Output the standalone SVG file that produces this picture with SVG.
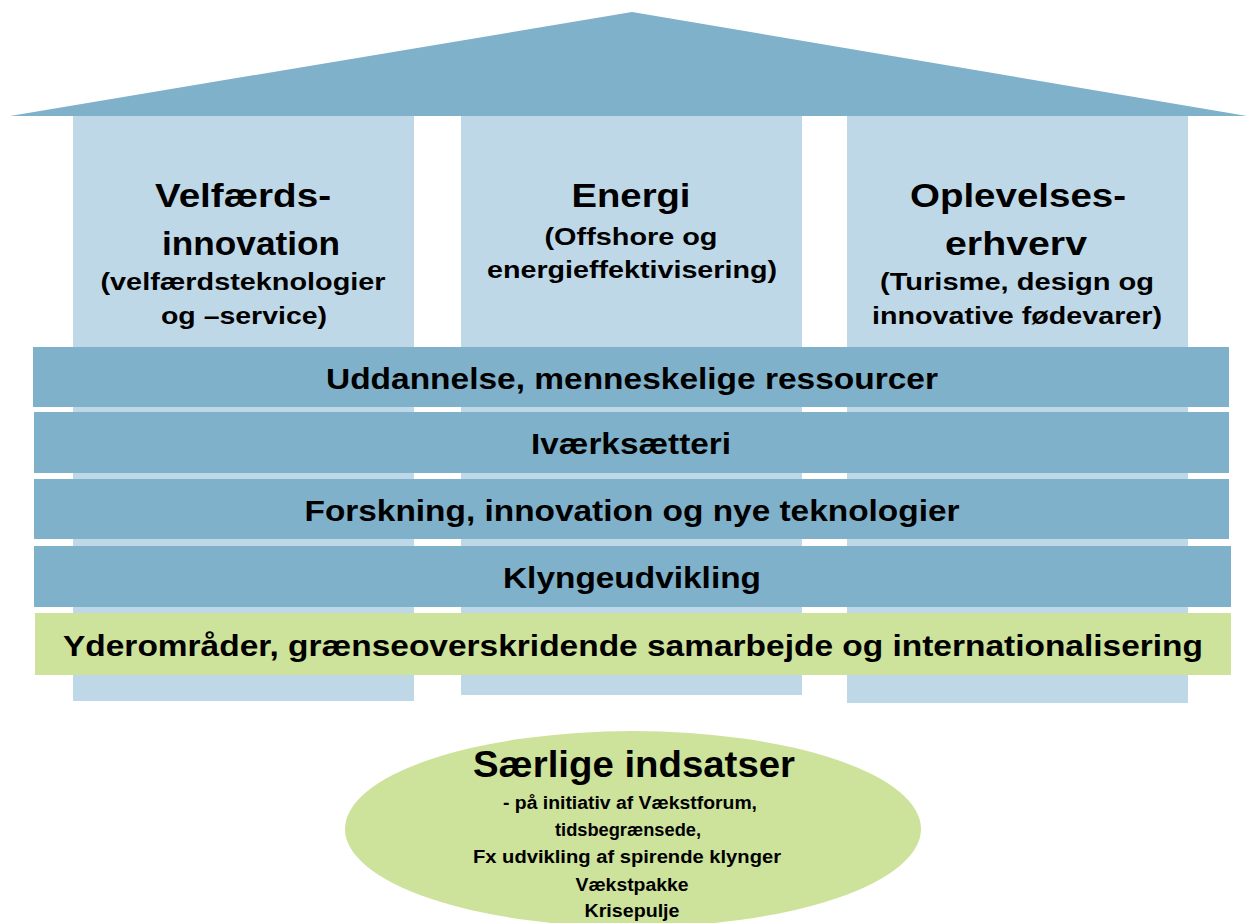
<svg xmlns="http://www.w3.org/2000/svg" width="1247" height="923" viewBox="0 0 1247 923">
<style>
.roof{fill:#7FB1CB}
.pillar{fill:#BFD8E7}
.band{fill:#7FB1CB}
.green{fill:#CDE29B}
text{font-family:"Liberation Sans",Arial,sans-serif;font-weight:bold;fill:#000;text-anchor:middle}
.h{font-size:34px}
.s{font-size:23px}
.b{font-size:30px}
.e1{font-size:36px}
.e2{font-size:18px}
</style>
<rect width="1247" height="923" fill="#fff"/>
<g id="roof"><polygon class="roof" points="10,116 632,12 1247,116"/></g>
<g id="pillar-velfaerd">
<rect class="pillar" x="73" y="116" width="341" height="585"/>
<text class="h" x="243" y="207" textLength="176" lengthAdjust="spacingAndGlyphs">Velfærds-</text>
<text class="h" x="251" y="255" textLength="178" lengthAdjust="spacingAndGlyphs">innovation</text>
<text class="s" x="243" y="290" textLength="285" lengthAdjust="spacingAndGlyphs">(velfærdsteknologier</text>
<text class="s" x="244" y="324" textLength="166" lengthAdjust="spacingAndGlyphs">og –service)</text>
</g>
<g id="pillar-energi">
<rect class="pillar" x="461" y="116" width="341" height="579"/>
<text class="h" x="631" y="207" textLength="119" lengthAdjust="spacingAndGlyphs">Energi</text>
<text class="s" x="631" y="245" textLength="173" lengthAdjust="spacingAndGlyphs">(Offshore og</text>
<text class="s" x="632" y="278" textLength="290" lengthAdjust="spacingAndGlyphs">energieffektivisering)</text>
</g>
<g id="pillar-oplevelse">
<rect class="pillar" x="847" y="116" width="341" height="587"/>
<text class="h" x="1018" y="207" textLength="216" lengthAdjust="spacingAndGlyphs">Oplevelses-</text>
<text class="h" x="1016" y="255" textLength="142" lengthAdjust="spacingAndGlyphs">erhverv</text>
<text class="s" x="1017" y="290" textLength="274" lengthAdjust="spacingAndGlyphs">(Turisme, design og</text>
<text class="s" x="1017" y="324" textLength="290" lengthAdjust="spacingAndGlyphs">innovative fødevarer)</text>
</g>
<g id="band-uddannelse">
<rect class="band" x="33" y="347" width="1196" height="60"/>
<text class="b" x="632" y="389" textLength="612" lengthAdjust="spacingAndGlyphs">Uddannelse, menneskelige ressourcer</text>
</g>
<g id="band-ivaerksaetteri">
<rect class="band" x="34" y="412" width="1195" height="61"/>
<text class="b" x="631" y="454" textLength="200" lengthAdjust="spacingAndGlyphs">Iværksætteri</text>
</g>
<g id="band-forskning">
<rect class="band" x="34" y="479" width="1195" height="60"/>
<text class="b" x="632" y="521" textLength="655" lengthAdjust="spacingAndGlyphs">Forskning, innovation og nye teknologier</text>
</g>
<g id="band-klynge">
<rect class="band" x="34" y="546" width="1197" height="61"/>
<text class="b" x="632" y="588" textLength="258" lengthAdjust="spacingAndGlyphs">Klyngeudvikling</text>
</g>
<g id="band-yderomraader">
<rect class="green" x="35" y="613" width="1196" height="62"/>
<text class="b" x="633" y="656" textLength="1140" lengthAdjust="spacingAndGlyphs">Yderområder, grænseoverskridende samarbejde og internationalisering</text>
</g>
<g id="saerlige">
<ellipse class="green" cx="633" cy="829" rx="288" ry="98"/>
<text class="e1" x="634" y="777" textLength="322" lengthAdjust="spacingAndGlyphs">Særlige indsatser</text>
<text class="e2" x="630" y="809" textLength="254" lengthAdjust="spacingAndGlyphs">- på initiativ af Vækstforum,</text>
<text class="e2" x="628" y="836" textLength="146" lengthAdjust="spacingAndGlyphs">tidsbegrænsede,</text>
<text class="e2" x="627" y="863" textLength="308" lengthAdjust="spacingAndGlyphs">Fx udvikling af spirende klynger</text>
<text class="e2" x="632" y="891" textLength="113" lengthAdjust="spacingAndGlyphs">Vækstpakke</text>
<text class="e2" x="632" y="917" textLength="95" lengthAdjust="spacingAndGlyphs">Krisepulje</text>
</g>
<g id="connectors"/>
</svg>
